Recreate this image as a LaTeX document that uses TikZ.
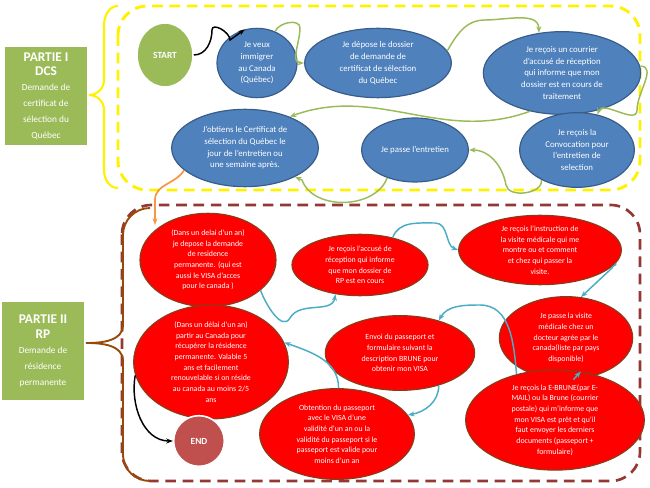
\documentclass[tikz,border=0pt]{standalone}
\usepackage{fontspec}
\setmainfont{Carlito}
\usetikzlibrary{shapes.geometric, arrows.meta}
\definecolor{bluefill}{HTML}{4F81BD}
\definecolor{blueedge}{HTML}{385D8A}
\definecolor{greenfill}{HTML}{9BBB59}
\definecolor{redfill}{HTML}{FF0000}
\definecolor{rededge}{HTML}{8C3A1A}
\definecolor{endfill}{HTML}{C0504D}
\definecolor{brownline}{HTML}{953735}
\definecolor{braceb}{HTML}{984807}
\definecolor{cyanline}{HTML}{4BACC6}
\definecolor{orangeline}{HTML}{F79646}
\definecolor{greenline}{HTML}{9BBB59}
\begin{document}
\begin{tikzpicture}[x=0.75pt,y=-0.75pt,
  blue/.style={ellipse, draw=blueedge, line width=0.9pt, fill=bluefill, text=white, inner sep=0pt, align=center, font=\fontsize{6.6}{8.8}\selectfont},
  red/.style={ellipse, draw=rededge, line width=0.9pt, fill=redfill, text=white, inner sep=0pt, align=center, font=\fontsize{5.9}{8}\selectfont},
  part/.style={draw=white, line width=1pt, fill=greenfill, text=white, align=center, minimum width=62pt, inner sep=0pt},
  garrow/.style={->, >={Stealth[length=5pt]}, greenline, line width=1.1pt},
  carrow/.style={->, >={Stealth[length=5pt]}, cyanline, line width=1.1pt}]
\useasboundingbox (0,0) rectangle (650,488);

%the two frames and braces
\draw[yellow, dashed, line width=2.2pt, dash pattern=on 8pt off 5pt, rounded corners=22pt] (118,6) rectangle (640,190);
\draw[brownline, dashed, line width=2pt, dash pattern=on 8pt off 5pt, rounded corners=22pt] (122,205) rectangle (640,481);
\draw[yellow, line width=1.6pt] (118,6) to[out=180,in=90] (104,26) -- (104,80) to[out=-90,in=0] (89,95) to[out=0,in=90] (104,110) -- (104,170) to[out=-90,in=180] (118,188);
\draw[braceb, line width=1.4pt] (150,208) to[out=180,in=90] (123,235) -- (123,325) to[out=-90,in=0] (86,343) to[out=0,in=90] (123,361) -- (123,455) to[out=-90,in=180] (150,481);

\node[part, minimum height=75pt] (partI) at (46,96) {\fontsize{10}{12}\selectfont\bfseries PARTIE I\\[-1pt]\fontsize{10}{12}\selectfont\bfseries DCS\\[-1pt]\fontsize{7}{8.5}\selectfont Demande de\\\fontsize{7}{8.5}\selectfont certificat de\\\fontsize{7}{8.5}\selectfont sélection du\\\fontsize{7}{8.5}\selectfont Québec};
\node[part, minimum height=74pt] (partII) at (43,351) {\fontsize{10}{12}\selectfont\bfseries PARTIE II\\[-1pt]\fontsize{10}{12}\selectfont\bfseries RP\\[-1pt]\fontsize{7}{8.5}\selectfont Demande de\\\fontsize{7}{8.5}\selectfont résidence\\\fontsize{7}{8.5}\selectfont permanente};

%part I
\node[ellipse, draw=white, line width=1.2pt, fill=greenfill, text=white, minimum width=42pt, minimum height=48pt, font=\fontsize{7}{8}\selectfont\bfseries] (start) at (165,55) {START};
\node[blue, minimum width=60pt, minimum height=52pt] (want) at (257,63) {Je veux\\immigrer\\au Canada\\(Québec)};
\node[blue, minimum width=110pt, minimum height=52pt] (depose) at (378,63) {Je dépose le dossier\\de demande de\\certificat de sélection\\du Québec};
\node[blue, minimum width=118pt, minimum height=62pt] (courrier) at (562,73) {Je reçois un courrier\\d’accusé de réception\\qui informe que mon\\dossier est en cours de\\traitement};
\node[blue, minimum width=110pt, minimum height=58pt] (certif) at (245,148) {J’obtiens le Certificat de\\sélection du Québec le\\jour de l’entretien ou\\une semaine après.};
\node[blue, minimum width=80pt, minimum height=48pt] (entretien) at (415,150) {Je passe l’entretien};
\node[blue, minimum width=86pt, minimum height=56pt] (convoc) at (577,150) {Je reçois la\\Convocation pour\\l’entretien de\\selection};

\draw[->, >={Stealth[length=5pt]}, black, line width=1.1pt] (start.east) to[out=0,in=-90] (212,30) to[out=90,in=90] (230,40) -- (want.110);
\draw[garrow] (want.60) to[out=70,in=90] (300,28) to[out=-90,in=180] (depose.west);
\draw[garrow] (depose.10) to[out=60,in=180] (485,20) to[out=0,in=90] (courrier.120);
\draw[garrow] (courrier.5) to[out=0,in=90] (637,110) to[out=-90,in=70] (convoc.60);
\draw[garrow] (courrier.230) to[out=200,in=20] (certif.35);
\draw[garrow] (convoc.220) to[out=-80,in=-80] (506,185) to[out=100,in=0] (entretien.east);
\draw[garrow] (entretien.225) to[out=-110,in=-70] (302,180) -- (certif.-30);
\draw[->, >={Stealth[length=5pt]}, orangeline, line width=1.3pt] (certif.200) to[out=-120,in=90] (155,200) -- (155,225);

%part II
\node[red, minimum width=102pt, minimum height=70pt] (dpose) at (208,260) {(Dans un delai d’un an)\\je depose la demande\\de residence\\permanente. (qui est\\aussi le VISA d’acces\\pour le canada )};
\node[red, minimum width=102pt, minimum height=46pt] (accuse) at (360,265) {Je reçois l’accusé de\\réception qui informe\\que mon dossier de\\RP est en cours};
\node[red, minimum width=122pt, minimum height=52pt] (instr) at (540,250) {Je reçois l’instruction de\\la visite médicale qui me\\montre ou et comment\\et chez qui passer la\\visite.};
\node[red, minimum width=100pt, minimum height=62pt] (visite) at (566,338) {Je passe la visite\\médicale chez un\\docteur agrée par le\\canada(liste par pays\\disponible)};
\node[red, minimum width=112pt, minimum height=56pt] (envoi) at (400,353) {Envoi du passeport et\\formulaire  suivant la\\description BRUNE pour\\obtenir mon VISA};
\node[red, minimum width=116pt, minimum height=76pt] (partir) at (211,362) {(Dans un délai d’un an)\\partir au Canada  pour\\récupérer la résidence\\permanente. Valable 5\\ans et facilement\\renouvelable si on réside\\au canada au moins 2/5\\ans};
\node[red, minimum width=116pt, minimum height=68pt] (obtention) at (337,434) {Obtention du passeport\\avec le VISA  d’une\\validité d’un an ou la\\validité du passeport si le\\passeport est valide pour\\moins d’un an};
\node[red, minimum width=134pt, minimum height=74pt] (brune) at (555,420) {Je reçois la E-BRUNE(par  E-\\MAIL) ou la Brune (courrier\\postale) qui m’informe que\\mon VISA est prêt et qu’il\\faut envoyer les derniers\\documents (passeport +\\formulaire)};
\node[circle, draw=white, line width=1.2pt, fill=endfill, text=white, minimum size=38pt, inner sep=0pt, font=\fontsize{7}{8}\selectfont\bfseries] (end) at (199,441) {END};

\draw[carrow] (dpose.-30) to[out=-70,in=-120] (290,318) to[out=60,in=-100] (accuse.230);
\draw[carrow] (accuse.40) to[out=70,in=180] (435,223) to[out=0,in=160] (instr.west);
\draw[carrow] (instr.-10) to[out=-60,in=90] (612,268) -- (visite.70);
\draw[carrow] (visite.-80) -- (brune.62);
\draw[carrow] (brune.130) to[out=95,in=0] (480,305) to[out=180,in=60] (envoi.40);
\draw[carrow] (envoi.-40) to[out=-90,in=10] (obtention.15);
\draw[carrow] (obtention.88) to[out=90,in=-20] (partir.15);
\draw[->, >={Stealth[length=5pt]}, black, line width=1.1pt] (partir.190) to[out=-100,in=180] (end.west);
\end{tikzpicture}
\end{document}
